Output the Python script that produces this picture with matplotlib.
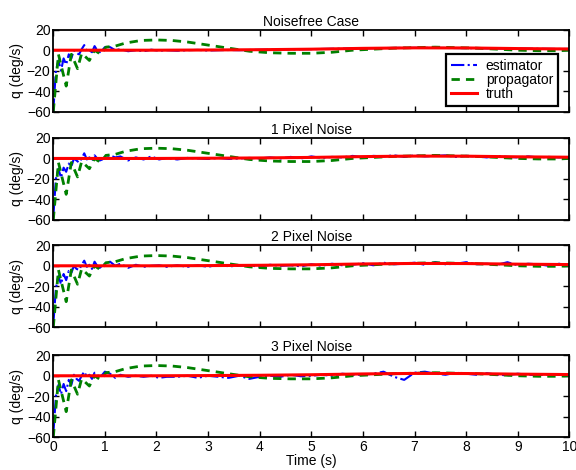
import matplotlib
matplotlib.use("Agg")
import matplotlib.pyplot as plt

plt.rcParams['font.family'] = ['Liberation Sans', 'DejaVu Sans']
plt.rcParams['font.size'] = 10

titles = ["Noisefree Case", "1 Pixel Noise", "2 Pixel Noise", "3 Pixel Noise"]

# truth
t_truth = [0, 1, 2, 3, 4, 5, 6, 7, 8, 9, 10]
q_truth = [0, 0, 0, 0.2, 0.5, 1.0, 1.8, 2.3, 2.2, 1.6, 1.2]

# propagator (vertices)
t_prop = [0, 0.1, 0.25, 0.35, 0.47, 0.55, 0.7, 0.8, 0.92, 1.02, 1.2, 1.4, 1.7,
          2.0, 2.3, 2.6, 3.0, 3.4, 3.8, 4.2, 4.6, 5.0, 5.4, 5.8, 6.2, 6.6, 7.0,
          7.4, 7.8, 8.2, 8.6, 9.0, 9.4, 9.8, 10]
q_prop = [-60, -4, -35, -4, -18, -3, -10, 0, -4, 3, 4, 7, 9.5,
          10, 9.5, 8, 5, 2, -1, -2.5, -3, -3, -2, 0, 1, 2, 2.5,
          3, 2.5, 2, 1, 0, -0.5, -0.5, 0]

# estimator
t_est = [0, 0.05, 0.1, 0.15, 0.2, 0.25, 0.3, 0.35, 0.4, 0.45, 0.5, 0.55, 0.6,
         0.65, 0.7, 0.75, 0.8, 0.85, 0.9, 0.95, 1.0, 1.1, 1.2, 1.3, 1.45, 1.6,
         1.75, 1.9, 2.05, 2.2, 2.4, 2.6, 2.8, 3.0, 3.2, 3.4, 3.6, 3.8, 4.0,
         4.2, 4.4, 4.6, 4.8, 5.0, 5.2, 5.4, 5.6, 5.8, 6.0, 6.2, 6.4, 6.6, 6.8,
         7.0, 7.2, 7.4, 7.6, 7.8, 8.0, 8.2, 8.4, 8.6, 8.8, 9.0, 9.2, 9.4, 9.6,
         9.8, 10.0]
q_est0 = [-60, -20, -10, -20, -8, -14, -4, -8, 0, -3, -4, 1, 5,
          -1, 0, -2, 4, 0, -2, 0, 3, 3, 0, 1, -1, 0,
          -1, 0.5, -0.5, 0, -0.5, 0, 0.3, -0.3, 0, 0.2, 0, 0.2, 0.4,
          0.5, 0.6, 0.8, 0.9, 1.0, 1.2, 1.4, 1.5, 1.7, 1.8, 2.0, 2.1, 2.2, 2.3,
          2.3, 2.3, 2.2, 2.2, 2.1, 2.0, 1.9, 1.8, 1.7, 1.6, 1.6, 1.5, 1.4, 1.3,
          1.2, 1.2]
q_est1 = [-58, -20, -10, -19, -9, -13, -5, -8, 0, -2, -4, 0, 5,
          -1, 1, -2, 3, 0, -2, -1, 2, 3, 1, 2, -2, 1,
          -1, 2, -1, 0.5, -1, 0.5, 0, -0.5, 0.5, -0.5, 0, 0.5, 0,
          1, 0, 1.5, 0, 2, 0.5, 1.5, 1, 2.5, 1, 2.5, 2, 3, 1.5,
          3, 2, 2.5, 3, 1.5, 2.5, 2, 1, 2.5, 1.5, 1, 2, 1, 1.5,
          1, 1.5]
q_est2 = [-58, -22, -10, -18, -8, -14, -5, -7, 0, -3, -4, 1, 5,
          -1, 1, -3, 4, 0, -2, 0, 2, 4, 0, 2, -2, 1,
          -1, 0, 0.5, -1, 0.5, -1, 0.5, -1, 1, -0.5, 0, 0.5, -1,
          1, 0, 0.5, -0.5, 1.5, 0, 2, 0.5, 1, 2.5, 0.5, 3, 1.5, 2,
          3, 1, 3.5, 1.5, 2, 3.5, 1.5, 2, 1, 3.5, 0.5, 2, 1.5, 0,
          2, 1]
q_est3 = [-58, -20, -9, -18, -8, -15, -4, -9, 1, -3, -5, 0, 4,
          -1, 1, -3, 3, 1, -2, 1, 4, 2, -2, 1, -1, 0,
          -1, 0, -2, -1, -1, 0, -2, 0, -1, -2, 0, -3, -1,
          0, -1, 1, -0.5, 0, 1, 0, 2, 1, 1, 2, 4, -1, -4,
          3, 4, 2, 1, 3, 2, 1, 2.5, 1, 0.5, 2, 1, 0.5, 1.5,
          1, 2]
q_est_all = [q_est0, q_est1, q_est2, q_est3]

fig = plt.figure(figsize=(5.76, 4.70), dpi=100)
bottoms = [0.7623, 0.532, 0.3036, 0.0696]
axes = []
for i in range(4):
    ax = fig.add_axes([0.0925, bottoms[i], 0.896, 0.1745])
    axes.append(ax)
    ax.plot(t_est, q_est_all[i], color='#0000ff', linestyle='-.', lw=1.5,
            label='estimator')
    ax.plot(t_prop, q_prop, color='#008000', linestyle='--', lw=2.0,
            dashes=(3, 2.2), label='propagator')
    ax.plot(t_truth, q_truth, color='#ff0000', lw=2.2, label='truth')
    ax.set_xlim(0, 10)
    ax.set_ylim(-60, 20)
    ax.set_xticks(range(0, 11))
    ax.set_yticks([-60, -40, -20, 0, 20])
    ax.tick_params(direction='in', top=True, right=True, length=4, width=1,
                   pad=2)
    for s in ax.spines.values():
        s.set_linewidth(1.3)
    ax.set_title(titles[i], fontsize=10, pad=3)
    ax.set_ylabel('q (deg/s)', labelpad=2)
    if i < 3:
        ax.set_xticklabels([])
    else:
        ax.set_xlabel('Time (s)', labelpad=0)

leg = axes[0].legend(loc='lower right', bbox_to_anchor=(0.978, 0.069),
                     fancybox=False, framealpha=1, edgecolor='black',
                     borderpad=0.35, labelspacing=0.02, handlelength=1.9,
                     handletextpad=0.6, fontsize=10, borderaxespad=0)
leg.get_frame().set_linewidth(1.6)

fig.savefig('out.png', dpi=100)
